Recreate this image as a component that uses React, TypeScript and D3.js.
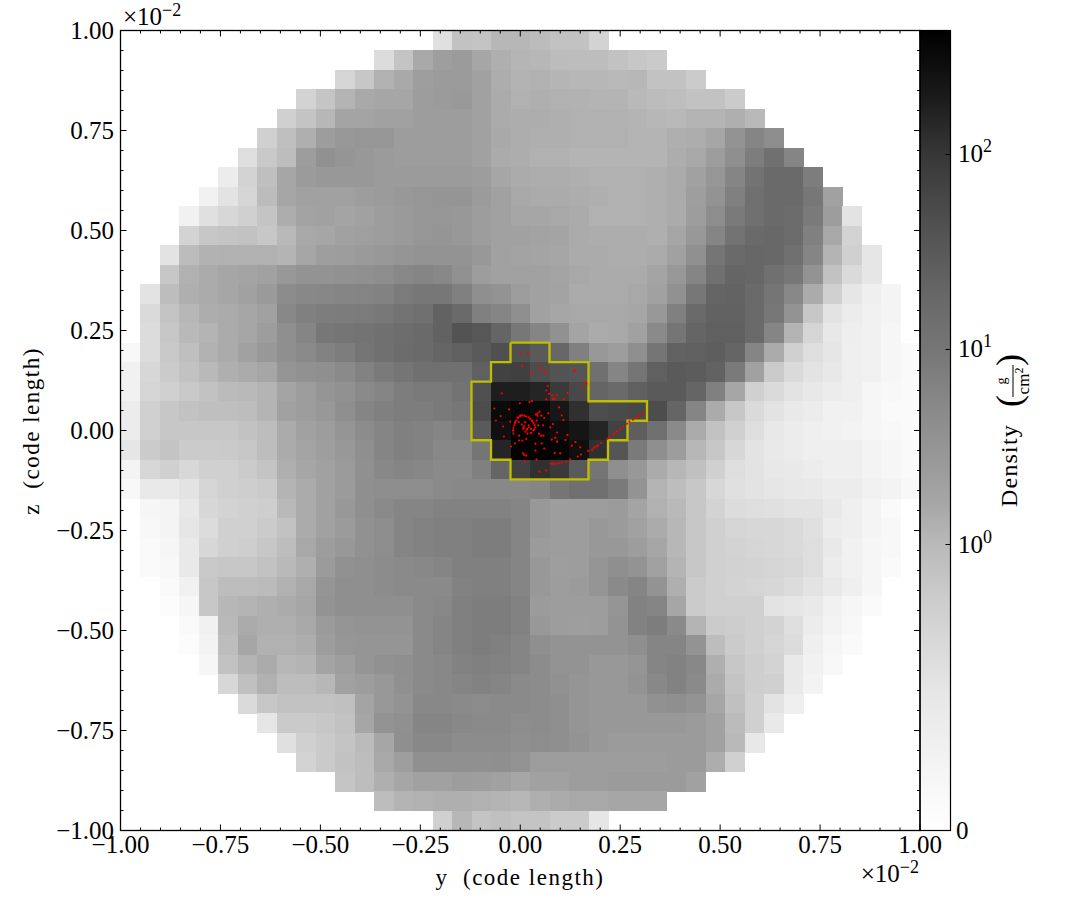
import * as d3 from "d3";

const rowStart = [16, 13, 11, 9, 8, 7, 6, 5, 4, 3, 3, 2, 2, 1, 1, 1, 0, 0, 0, 0, 0, 0, 0, 0, 1, 1, 1, 1, 2, 2, 3, 3, 4, 5, 6, 7, 8, 9, 11, 13, 16];
const densityRows = [
  [222, 190, 192, 178, 178, 183, 190, 190, 208],
  [218, 192, 163, 152, 148, 160, 170, 176, 178, 183, 185, 185, 190, 195, 198],
  [210, 195, 172, 163, 152, 148, 148, 155, 168, 174, 172, 176, 178, 178, 180, 178, 190, 190, 200],
  [208, 193, 175, 163, 160, 160, 150, 148, 146, 155, 165, 172, 170, 172, 173, 175, 175, 180, 183, 186, 190, 190, 200],
  [205, 192, 178, 158, 158, 155, 155, 150, 150, 150, 155, 165, 168, 168, 170, 172, 172, 173, 175, 178, 180, 175, 175, 170, 180],
  [205, 187, 170, 150, 145, 143, 143, 150, 150, 150, 150, 155, 163, 168, 170, 170, 172, 172, 172, 175, 175, 170, 168, 160, 140, 125, 133],
  [220, 197, 185, 150, 138, 142, 145, 148, 150, 150, 150, 150, 155, 165, 168, 172, 172, 175, 175, 175, 175, 175, 168, 162, 150, 135, 118, 105, 125],
  [235, 208, 187, 160, 148, 145, 145, 145, 148, 148, 148, 148, 148, 150, 160, 165, 168, 168, 170, 172, 172, 172, 170, 165, 155, 143, 125, 108, 100, 100, 118],
  [240, 225, 210, 183, 160, 155, 155, 155, 150, 148, 145, 143, 142, 142, 148, 155, 162, 165, 165, 168, 170, 172, 172, 170, 165, 152, 140, 120, 105, 100, 100, 112, 155],
  [240, 222, 212, 205, 192, 167, 157, 155, 158, 155, 150, 147, 143, 143, 145, 150, 155, 160, 160, 162, 165, 172, 172, 172, 170, 165, 150, 133, 115, 105, 100, 102, 115, 150, 225],
  [208, 195, 192, 190, 195, 180, 162, 160, 155, 153, 150, 147, 143, 142, 145, 150, 155, 155, 157, 158, 165, 168, 168, 168, 170, 160, 145, 125, 108, 100, 98, 102, 120, 162, 208],
  [225, 183, 173, 172, 172, 172, 175, 160, 152, 150, 147, 145, 142, 140, 140, 140, 145, 155, 157, 158, 160, 165, 165, 168, 168, 165, 155, 137, 110, 100, 97, 98, 105, 125, 175, 205, 228],
  [195, 172, 165, 160, 158, 155, 145, 140, 140, 138, 137, 133, 128, 125, 128, 138, 150, 155, 155, 155, 158, 162, 165, 165, 165, 158, 145, 125, 105, 95, 97, 105, 112, 140, 190, 215, 228],
  [225, 185, 170, 165, 160, 155, 147, 132, 128, 127, 125, 124, 122, 116, 112, 112, 120, 135, 140, 150, 155, 157, 165, 165, 165, 162, 155, 138, 112, 95, 93, 100, 110, 128, 165, 205, 228, 238, 243],
  [215, 192, 178, 168, 165, 160, 155, 128, 120, 118, 117, 116, 113, 108, 105, 92, 100, 120, 125, 135, 155, 160, 162, 162, 162, 160, 145, 120, 100, 92, 92, 100, 112, 140, 195, 225, 235, 240, 243],
  [218, 195, 180, 175, 165, 160, 150, 135, 125, 112, 110, 108, 105, 103, 100, 92, 78, 82, 95, 112, 125, 138, 158, 165, 162, 155, 130, 110, 95, 90, 90, 100, 125, 175, 210, 230, 237, 240, 245],
  [248, 218, 197, 187, 172, 165, 155, 145, 135, 130, 122, 118, 110, 105, 102, 100, 95, 90, 85, 75, 75, 85, 97, 120, 145, 150, 135, 110, 92, 90, 88, 95, 125, 165, 205, 220, 228, 238, 240, 245, 250],
  [240, 212, 200, 190, 180, 170, 165, 160, 142, 138, 135, 130, 122, 115, 110, 105, 105, 105, 90, 62, 60, 72, 78, 80, 105, 125, 110, 90, 85, 87, 92, 115, 155, 200, 215, 225, 230, 238, 240, 245, 250],
  [240, 210, 205, 197, 190, 182, 180, 175, 158, 150, 142, 138, 130, 125, 118, 115, 115, 108, 75, 28, 28, 35, 55, 68, 95, 100, 90, 85, 85, 95, 120, 160, 205, 215, 225, 230, 235, 238, 245, 248, 250],
  [235, 205, 195, 190, 187, 187, 185, 175, 155, 150, 145, 135, 125, 120, 118, 118, 115, 112, 72, 10, 5, 8, 22, 45, 72, 70, 68, 72, 95, 125, 165, 195, 215, 225, 232, 235, 240, 240, 245, 250, 250],
  [235, 205, 195, 195, 195, 195, 190, 185, 165, 155, 150, 142, 132, 125, 120, 122, 125, 120, 85, 15, 0, 5, 12, 20, 35, 62, 88, 105, 130, 165, 190, 205, 220, 230, 235, 238, 240, 242, 245, 248, 250],
  [228, 200, 192, 200, 200, 198, 195, 185, 165, 158, 152, 145, 135, 125, 120, 122, 128, 128, 110, 35, 2, 3, 5, 15, 45, 80, 115, 135, 150, 178, 195, 212, 225, 232, 235, 238, 238, 238, 242, 245, 250],
  [243, 212, 205, 213, 205, 205, 200, 192, 170, 160, 155, 148, 137, 128, 125, 127, 130, 130, 120, 95, 60, 45, 55, 85, 110, 135, 145, 165, 178, 188, 205, 220, 225, 230, 232, 235, 238, 238, 242, 245, 250],
  [248, 232, 232, 225, 210, 205, 203, 200, 175, 165, 155, 148, 135, 133, 133, 133, 130, 128, 128, 128, 128, 125, 110, 105, 105, 115, 140, 175, 185, 195, 212, 222, 225, 228, 230, 232, 235, 235, 240, 242, 248],
  [245, 243, 230, 212, 208, 205, 203, 180, 165, 155, 145, 135, 130, 125, 125, 122, 122, 122, 122, 125, 145, 150, 150, 150, 148, 158, 172, 180, 195, 208, 218, 220, 222, 225, 225, 232, 238, 243, 250],
  [248, 243, 228, 218, 205, 205, 200, 190, 165, 155, 148, 138, 133, 125, 122, 120, 120, 118, 118, 125, 145, 150, 150, 145, 148, 155, 165, 178, 195, 205, 210, 212, 212, 215, 222, 235, 238, 243, 248],
  [250, 245, 232, 212, 205, 203, 195, 185, 162, 150, 145, 138, 133, 125, 122, 120, 120, 118, 118, 125, 148, 150, 150, 145, 145, 150, 160, 178, 195, 205, 208, 210, 212, 215, 220, 232, 240, 245, 248],
  [250, 248, 232, 197, 195, 195, 190, 180, 170, 148, 138, 135, 132, 130, 128, 125, 120, 120, 120, 125, 145, 152, 150, 142, 135, 140, 155, 175, 195, 205, 207, 208, 210, 213, 220, 235, 240, 245, 250],
  [250, 240, 195, 185, 185, 182, 172, 162, 142, 135, 135, 132, 130, 130, 130, 122, 120, 120, 125, 145, 150, 148, 142, 130, 125, 140, 170, 200, 205, 208, 210, 212, 218, 225, 232, 238, 245],
  [252, 245, 195, 178, 175, 170, 165, 160, 140, 135, 135, 135, 135, 130, 128, 120, 118, 118, 122, 148, 150, 150, 150, 142, 122, 125, 160, 200, 205, 205, 205, 225, 228, 232, 240, 245, 250],
  [250, 240, 180, 165, 170, 170, 162, 148, 142, 140, 140, 140, 130, 125, 120, 118, 118, 122, 145, 150, 152, 150, 140, 122, 118, 130, 175, 200, 202, 205, 208, 220, 235, 242, 248],
  [252, 242, 185, 160, 172, 172, 168, 150, 143, 142, 142, 142, 130, 125, 120, 118, 120, 125, 135, 140, 140, 140, 140, 135, 125, 125, 140, 185, 200, 205, 210, 218, 238, 245, 250],
  [245, 190, 175, 165, 178, 175, 158, 152, 142, 138, 135, 130, 128, 122, 120, 122, 125, 132, 140, 140, 145, 145, 142, 125, 122, 128, 170, 195, 203, 208, 232, 240, 247],
  [212, 188, 172, 185, 185, 178, 155, 150, 145, 137, 130, 128, 125, 122, 125, 130, 132, 138, 142, 145, 145, 140, 128, 122, 130, 165, 192, 203, 205, 232, 242],
  [215, 195, 190, 190, 190, 188, 158, 145, 140, 128, 128, 130, 132, 130, 130, 132, 135, 142, 145, 145, 145, 138, 135, 140, 160, 188, 205, 225, 238],
  [228, 198, 198, 195, 190, 160, 140, 137, 125, 125, 128, 130, 130, 133, 132, 135, 142, 145, 145, 145, 145, 145, 148, 155, 182, 205, 232],
  [222, 205, 198, 192, 182, 160, 135, 128, 128, 132, 132, 132, 135, 133, 135, 140, 145, 148, 148, 148, 148, 148, 155, 180, 230],
  [208, 198, 190, 185, 162, 152, 137, 137, 137, 137, 135, 140, 150, 150, 150, 150, 150, 150, 150, 148, 148, 168, 205],
  [193, 185, 170, 160, 155, 155, 150, 152, 155, 160, 155, 155, 150, 150, 148, 148, 148, 148, 155],
  [185, 175, 172, 170, 170, 172, 175, 178, 170, 165, 162, 162, 160, 160, 160],
  [205, 178, 192, 188, 192, 192, 200, 200, 228],
];

// sink particles, y and z in units of 1e-2 code length
const particleY = [
  0.001, 0.02, 0.005, 0.048, 0.051, 0.065, 0.061, 0.029, 0.138, 0.134, 0.163, 0.166, 0.156, 0.069, 0.065, -0.046, 0.072, 0.08, 0.092, 0.118,
  0.082, 0.086, 0.065, 0.109, 0.029, 0.023, -0.001, -0.065, -0.028, 0.048, 0.043, 0.039, 0.097, 0.07, -0.061, -0.049, -0.043, -0.041, -0.025, 0.043,
  0.041, 0.053, 0.06, 0.104, 0.108, 0.075, 0.057, 0.045, 0.082, 0.092, 0.047, 0.052, 0.058, -0.003, 0.015, 0.005, -0.003, -0.013, -0.023, 0.038,
  0.038, 0.054, 0.06, 0.079, 0.088, 0.092, 0.118, 0.113, 0.138, 0.129, 0.15, 0.007, 0.01, 0.015, 0.041, 0.011, 0.086, 0.1, 0.152, 0.144,
  0.17, 0.076, 0.081, 0.088, 0.096, 0.104, 0.115, 0.125, 0.048, 0.065,
  0.18, 0.185, 0.19, 0.194, 0.203, 0.218, 0.223, 0.232, 0.236, 0.242, 0.25, 0.258, 0.267, 0.273, 0.282, 0.292, 0.298, 0.307,
  -0.017, -0.017, -0.015, -0.013, -0.01, -0.004, 0, 0.004, 0.01, 0.015, 0.021, 0.025, 0.03, 0.033, 0.036, 0.037, 0.035, 0.033, 0.027, 0.018, 0.013, 0.008, 0.01, -0.004, 0.017, 0.021,
  0.021, 0.027, 0.017, 0.008, 0.004, 0.0125, -0.017, -0.018, -0.0125, -0.007, 0, 0.029,
];
const particleZ = [
  0.195, 0.194, 0.162, 0.161, 0.153, 0.15, 0.144, 0.144, 0.151, 0.148, 0.121, 0.117, 0.107, 0.111, 0.1, 0.093, 0.092, 0.088, 0.088, 0.094,
  0.079, 0.079, 0.078, 0.078, 0.074, 0.071, 0.068, 0.055, 0.053, 0.047, 0.043, 0.04, 0.058, 0.043, 0.025, 0.036, 0.01, -0.015, 0.022, 0.037,
  0.025, 0.037, 0.031, 0.038, 0.026, 0.008, 0.013, 0.013, 0.016, -0.005, -0.008, -0.013, -0.013, -0.013, -0.021, -0.025, -0.025, -0.032, -0.04, -0.033,
  -0.05, -0.032, -0.045, -0.023, -0.018, -0.028, -0.011, -0.024, -0.029, -0.038, -0.042, -0.057, -0.061, -0.063, -0.073, -0.078, -0.056, -0.057, -0.06, -0.065,
  -0.051, -0.083, -0.083, -0.083, -0.082, -0.08, -0.078, -0.073, -0.103, -0.1,
  -0.048, -0.043, -0.04, -0.037, -0.031, -0.021, -0.017, -0.01, -0.007, -0.002, 0.004, 0.01, 0.017, 0.023, 0.027, 0.033, 0.037, 0.044,
  0, 0.006, 0.013, 0.019, 0.025, 0.033, 0.036, 0.038, 0.037, 0.035, 0.033, 0.029, 0.024, 0.019, 0.014, 0.008, 0.003, 0, -0.006, -0.008, -0.003, 0.004, 0.011, 0.021, 0.004, 0.013,
  0.008, 0.004, 0.002, 0.007, 0.015, 0.021, -0.008, 0, 0.021, 0.032, 0.037, 0.025,
];

// clump outline as [column edge, row edge] of the grid
const clumpOutline = [
  [20, 16], [22, 16], [22, 17], [24, 17], [24, 19], [27, 19], [27, 20], [26, 20], [26, 21], [25, 21], [25, 22], [24, 22], [24, 23],
  [20, 23], [20, 22], [19, 22], [19, 21], [18, 21], [18, 18], [19, 18], [19, 17], [20, 17], [20, 16],
];

const axisTicks = [-1, -0.75, -0.5, -0.25, 0, 0.25, 0.5, 0.75, 1];
const colorbarTicks = [0, 1, 10, 100];
const colorbarMax = 432;
// position along the bar (0 bottom, 1 top) and the grey it shows
const colorbarPos = [0, 0.0375, 0.1625, 0.2875, 0.3575, 0.4125, 0.5375, 0.6013, 0.6625, 0.7875, 0.845, 0.9125, 1];
const colorbarGrey = [255, 250, 232, 205, 185, 165, 135, 118, 105, 72, 55, 28, 0];

const serif = "'Liberation Serif', serif";
const nCells = 41;

const App = () => {
  const width = 1085;
  const height = 920;
  const plot = { left: 120.5, right: 920, top: 30.5, bottom: 830.5 };
  const bar = { left: 920, right: 950.5 };

  const x = d3.scaleLinear().domain([-1, 1]).range([plot.left, plot.right]);
  const y = d3.scaleLinear().domain([-1, 1]).range([plot.bottom, plot.top]);
  const col = d3.scaleLinear().domain([0, nCells]).range([plot.left, plot.right]);
  const row = d3.scaleLinear().domain([0, nCells]).range([plot.top, plot.bottom]);
  const grey = d3.scaleLinear<string>().domain([0, 255]).range(["#000000", "#ffffff"]);
  // the cell readings came out a little dark in the mid tones
  const cellGrey = d3.scaleLinear<string>().domain([0, 128, 255]).range(["#000000", "#888888", "#ffffff"]);

  const barLow = d3.scaleLinear().domain([0, 1]).range([plot.bottom, 544.5]);
  const barLog = d3.scaleLog().domain([1, colorbarMax]).range([544.5, plot.top]);
  const barY = (v: number) => (v <= 1 ? barLow(v) : barLog(v));

  const minor = d3.range(-1, 1.001, 0.05);
  const fmt = d3.format(".2f");
  const outline = d3
    .line<number[]>()
    .x((d) => col(d[0]))
    .y((d) => row(d[1]));

  const ticks = [];
  minor.forEach((v, i) => {
    const len = i % 5 === 0 ? 6 : 3;
    ticks.push(<line key={`b${i}`} x1={x(v)} x2={x(v)} y1={plot.bottom} y2={plot.bottom - len} />);
    ticks.push(<line key={`t${i}`} x1={x(v)} x2={x(v)} y1={plot.top} y2={plot.top + len} />);
    ticks.push(<line key={`l${i}`} y1={y(v)} y2={y(v)} x1={plot.left} x2={plot.left + len} />);
    ticks.push(<line key={`r${i}`} y1={y(v)} y2={y(v)} x1={plot.right} x2={plot.right - len} />);
  });

  return (
    <svg width={width} height={height} style={{ position: "absolute", left: 0, top: 0, background: "#fff" }} fontFamily={serif}>
      <defs>
        <linearGradient id="cbar" x1="0" y1="1" x2="0" y2="0">
          {colorbarPos.map((p, i) => (
            <stop key={i} offset={p} stopColor={grey(colorbarGrey[i])} />
          ))}
        </linearGradient>
      </defs>

      <g shapeRendering="crispEdges">
        {densityRows.map((cells, r) =>
          cells.map((v, c) => (
            <rect
              key={`${r}-${c}`}
              x={col(rowStart[r] + c)}
              y={row(r)}
              width={col(1) - col(0) + 0.5}
              height={row(1) - row(0) + 0.5}
              fill={cellGrey(v)}
            />
          ))
        )}
      </g>

      <path d={outline(clumpOutline) as string} fill="none" stroke="#bfbf00" strokeWidth={2.3} />

      <g fill="#ff0000">
        {particleY.map((v, i) => (
          <circle key={i} cx={x(v)} cy={y(particleZ[i])} r={1.1} />
        ))}
      </g>

      <rect x={bar.left} y={plot.top} width={bar.right - bar.left} height={plot.bottom - plot.top} fill="url(#cbar)" />
      <g stroke="#000" strokeWidth={1}>
        {ticks}
      </g>
      <rect x={plot.left} y={plot.top} width={plot.right - plot.left} height={plot.bottom - plot.top} fill="none" stroke="#000" strokeWidth={1.3} />

      {axisTicks.map((v) => (
        <text key={`xl${v}`} x={x(v)} y={853} textAnchor="middle" fontSize={25}>
          {fmt(v)}
        </text>
      ))}
      {axisTicks.map((v) => (
        <text key={`yl${v}`} x={114} y={y(v) + 8} textAnchor="end" fontSize={25}>
          {fmt(v)}
        </text>
      ))}

      <text x={123} y={25} fontSize={25}>
        ×10
        <tspan dy={-9} fontSize={18}>−2</tspan>
      </text>
      <text x={919} y={882} textAnchor="end" fontSize={25}>
        ×10
        <tspan dy={-9} fontSize={18}>−2</tspan>
      </text>

      <text x={520} y={885} textAnchor="middle" fontSize={23} letterSpacing={1.5} xmlSpace="preserve">
        y  (code length)
      </text>
      <text transform="translate(39,431) rotate(-90)" textAnchor="middle" fontSize={23} letterSpacing={1.5} xmlSpace="preserve">
        z  (code length)
      </text>

      <rect x={bar.left} y={plot.top} width={bar.right - bar.left} height={plot.bottom - plot.top} fill="none" stroke="#000" strokeWidth={1.2} />
      {colorbarTicks.map((v) => (
        <g key={v}>
          {v > 0 && <line x1={bar.right - 5} x2={bar.right} y1={barY(v)} y2={barY(v)} stroke="#000" strokeWidth={1} />}
          {v === 0 ? (
            <text x={956} y={barY(v) + 8} fontSize={25}>0</text>
          ) : (
            <text x={958} y={barY(v) + 8} fontSize={25}>
              10
              <tspan dy={-10} fontSize={18}>{Math.log10(v)}</tspan>
            </text>
          )}
        </g>
      ))}

      <g transform="translate(1017,507) rotate(-90)">
        <text x={0} y={0} fontSize={24} letterSpacing={1.2}>Density</text>
        <text x={100} y={4} fontSize={36} fontWeight={100}>(</text>
        <text x={126} y={-11} textAnchor="middle" fontSize={14}>g</text>
        <line x1={110} x2={142} y1={-4} y2={-4} stroke="#000" strokeWidth={1} />
        <text x={126} y={12} textAnchor="middle" fontSize={17}>
          cm
          <tspan dy={-6} fontSize={12}>2</tspan>
        </text>
        <text x={141} y={4} fontSize={36} fontWeight={100}>)</text>
      </g>
    </svg>
  );
};

export default App;
